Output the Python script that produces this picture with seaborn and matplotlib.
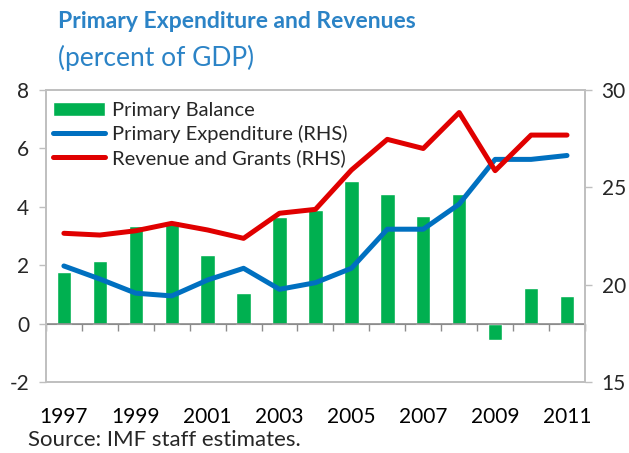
import numpy as np
import pandas as pd
import seaborn as sns
import matplotlib.pyplot as plt

# Data
years = list(range(1997, 2012))
primary_balance = [1.76, 2.16, 3.36, 3.5, 2.36, 1.04, 3.64, 3.88, 4.9, 4.45, 3.7, 4.45, -0.55, 1.23, 0.96]
primary_expenditure = [20.96, 20.29, 19.56, 19.42, 20.24, 20.84, 19.76, 20.1, 20.84, 22.85, 22.85, 24.14, 26.44, 26.44, 26.64]
revenue_grants = [22.64, 22.55, 22.77, 23.15, 22.81, 22.38, 23.67, 23.87, 25.89, 27.47, 27.0, 28.85, 25.86, 27.69, 27.69]
year_labels = [str(y) if (y - 1997) % 2 == 0 else "" for y in years]

GREEN = "#00b050"
BLUE = "#0070c0"
RED = "#e00000"
GRAY = "#bfbfbf"
TITLE_BLUE = "#2b83c6"

sns.set_style("white")
plt.rcParams["font.family"] = ["Lato", "DejaVu Sans"]
plt.rcParams["axes.unicode_minus"] = False

df = pd.DataFrame({
    "pos": np.arange(len(years)),
    "balance": primary_balance,
    "expend": primary_expenditure,
    "revenue": revenue_grants,
})

fig = plt.figure(figsize=(6.29, 4.53), dpi=100)
ax = fig.add_axes([0.073, 0.157, 0.857, 0.644])

sns.barplot(data=df, x="pos", y="balance", color=GREEN, width=0.4,
            saturation=1, ax=ax, label="Primary Balance", native_scale=True)
if ax.get_legend():
    ax.get_legend().remove()
ax.set_xlim(-0.5, len(years) - 0.5)
ax.set_ylim(-2, 8)
ax.set_yticks([-2, 0, 2, 4, 6, 8])
ax.set_xticks(df["pos"])
ax.set_xticklabels(year_labels)
ax.set_xlabel("")
ax.set_ylabel("")
ax.tick_params(axis="x", length=0, pad=18, labelsize=15, colors="#000000")
ax.tick_params(axis="y", length=5, width=1, color=GRAY, direction="out",
               labelsize=15, pad=7)
for s in ax.spines.values():
    s.set_color(GRAY)
    s.set_linewidth(1.2)

# zero line with category separators
ax.axhline(0, color="#8c8c8c", lw=1.2, zorder=1)
sec = ax.secondary_xaxis(0.2)
sec.spines["bottom"].set_color("#8c8c8c")
sec.set_xticks(np.arange(-0.5, len(years), 1.0))
sec.tick_params(length=5, width=1, color="#8c8c8c", labelbottom=False)

ax2 = ax.twinx()
sns.lineplot(data=df, x="pos", y="expend", color=BLUE, lw=3.6, ax=ax2,
             label="Primary Expenditure (RHS)")
sns.lineplot(data=df, x="pos", y="revenue", color=RED, lw=3.6, ax=ax2,
             label="Revenue and Grants (RHS)")
ax2.set_ylim(15, 30)
ax2.set_yticks([15, 20, 25, 30])
ax2.set_ylabel("")
ax2.set_xlabel("")
ax2.tick_params(axis="y", length=5, width=1, color=GRAY, direction="out",
                labelsize=15, pad=7)
for s in ax2.spines.values():
    s.set_color(GRAY)
    s.set_linewidth(1.2)

h1, l1 = ax.get_legend_handles_labels()
h2, l2 = ax2.get_legend_handles_labels()
if ax2.get_legend():
    ax2.get_legend().remove()
ax2.legend(h1 + h2, l1 + l2, loc="upper left", bbox_to_anchor=(0.0, 0.985),
           frameon=False, fontsize=14.5, handlelength=2.6, handleheight=0.7,
           labelspacing=0.3, borderaxespad=0.15, borderpad=0.2,
           handletextpad=0.35)

fig.text(0.092, 0.952, "Primary Expenditure and Revenues", color=TITLE_BLUE,
         fontsize=16.5, fontweight="bold", va="center")
fig.text(0.092, 0.873, "(percent of GDP)", color=TITLE_BLUE,
         fontsize=19, va="center")
fig.text(0.045, 0.028, "Source: IMF staff estimates.", fontsize=16, va="center")

fig.savefig("out.png", dpi=100)
